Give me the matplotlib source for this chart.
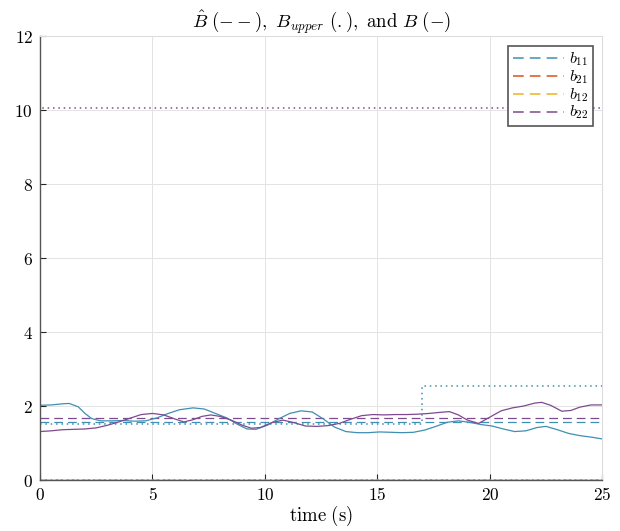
import matplotlib
matplotlib.use("Agg")
import matplotlib.pyplot as plt
import numpy as np

plt.rcParams['mathtext.fontset'] = 'cm'
plt.rcParams['font.family'] = ['DejaVu Serif']

# true parameters (solid)
t_b11 = [0, 0.5, 1.0, 1.3, 1.7, 2.0, 2.3, 2.7, 3.2, 3.7, 4.2, 4.7, 5.2, 5.7, 6.2, 6.8,
         7.3, 7.8, 8.3, 8.8, 9.2, 9.6, 10.1, 10.6, 11.1, 11.6, 12.1, 12.6, 13.1, 13.6,
         14.1, 14.6, 15.1, 15.6, 16.1, 16.6, 17.1, 17.6, 18.1, 18.6, 19.1, 19.6, 20.1,
         20.6, 21.1, 21.6, 22.1, 22.5, 23.0, 23.5, 24.0, 24.5, 25]
b11 = [2.02, 2.03, 2.06, 2.07, 1.98, 1.80, 1.66, 1.60, 1.60, 1.61, 1.59, 1.60, 1.68,
       1.80, 1.90, 1.95, 1.92, 1.80, 1.68, 1.50, 1.38, 1.37, 1.48, 1.65, 1.80, 1.87,
       1.84, 1.65, 1.43, 1.31, 1.28, 1.28, 1.30, 1.29, 1.28, 1.29, 1.35, 1.45, 1.56,
       1.60, 1.56, 1.50, 1.46, 1.38, 1.31, 1.33, 1.42, 1.45, 1.36, 1.26, 1.20, 1.16, 1.11]

t_b22 = [0, 0.5, 1.0, 1.5, 2.0, 2.5, 3.0, 3.5, 4.0, 4.5, 5.0, 5.5, 6.0, 6.4, 6.8, 7.2,
         7.6, 8.0, 8.5, 9.0, 9.4, 9.8, 10.3, 10.8, 11.3, 11.8, 12.3, 12.8, 13.3, 13.8,
         14.3, 14.8, 15.3, 15.8, 16.3, 16.8, 17.3, 17.8, 18.2, 18.6, 19.0, 19.5, 20.0,
         20.5, 21.0, 21.5, 22.0, 22.3, 22.7, 23.2, 23.6, 24.0, 24.5, 25]
b22 = [1.31, 1.33, 1.36, 1.37, 1.38, 1.41, 1.48, 1.57, 1.67, 1.77, 1.80, 1.76, 1.65,
       1.57, 1.63, 1.72, 1.76, 1.72, 1.62, 1.48, 1.40, 1.42, 1.55, 1.62, 1.55, 1.46,
       1.45, 1.47, 1.53, 1.64, 1.74, 1.77, 1.76, 1.77, 1.77, 1.78, 1.80, 1.83, 1.85,
       1.76, 1.62, 1.53, 1.70, 1.87, 1.95, 2.00, 2.08, 2.10, 2.02, 1.86, 1.88, 1.97,
       2.03, 2.03]

t_span = [0, 25]
b21 = [0, 0]
b12 = [0, 0]

# estimates (dashed)
b11_hat = 1.56
b21_hat = 0.0
b12_hat = 0.0
b22_hat = 1.67

# upper bounds (dotted)
t_up11 = [0, 17, 25]
up11 = [1.52, 2.55, 2.55]
t_up22 = [0, 0, 25]
up22 = [0, 10.05, 10.05]
up21 = [0, 0]
up12 = [0, 0]

c11 = '#3f8fb3'
c21 = '#D95319'
c12 = '#EDB120'
c22 = '#7e4a8e'
lw = 0.9
dash = (0, (7, 4))
dot = (0, (1, 2.5))

fig = plt.figure(figsize=(6.2, 5.31), dpi=100)
ax = fig.add_axes([0.0645, 0.096, 0.907, 0.836])

h11, = ax.plot(t_span, [b11_hat] * 2, ls=dash, color=c11, lw=lw, label=r'$b_{11}$')
h21, = ax.plot(t_span, [b21_hat] * 2, ls=dash, color=c21, lw=lw, label=r'$b_{21}$')
h12, = ax.plot(t_span, [b12_hat] * 2, ls=dash, color=c12, lw=lw, label=r'$b_{12}$')
h22, = ax.plot(t_span, [b22_hat] * 2, ls=dash, color=c22, lw=lw, label=r'$b_{22}$')

ax.step(t_up11, up11, where='post', ls=dot, color=c11, lw=1.1)
ax.plot(t_span, up21, ls=dot, color=c21, lw=1.1)
ax.plot(t_span, up12, ls=dot, color=c12, lw=1.1)
ax.plot(t_up22, up22, ls=dot, color=c22, lw=1.1)

ax.plot(t_b11, b11, '-', color=c11, lw=lw)
ax.plot(t_span, b21, '-', color=c21, lw=lw)
ax.plot(t_span, b12, '-', color=c12, lw=lw)
ax.plot(t_b22, b22, '-', color=c22, lw=lw)

ax.set_xlim(0, 25)
ax.set_ylim(0, 12)
ax.set_xticks(np.arange(0, 26, 5))
ax.set_yticks(np.arange(0, 13, 2))
ax.set_xticklabels([r'$\mathrm{%d}$' % v for v in range(0, 26, 5)], fontsize=12.5)
ax.set_yticklabels([r'$\mathrm{%d}$' % v for v in range(0, 13, 2)], fontsize=12.5)
ax.tick_params(direction='in', length=4, width=0.8, color='#262626', pad=5)
ax.grid(True, color='#e3e3e3', lw=0.7)
ax.set_axisbelow(True)
for side in ['left', 'bottom']:
    ax.spines[side].set_color('#555555')
    ax.spines[side].set_linewidth(1.0)
for side in ['top', 'right']:
    ax.spines[side].set_color('#dddddd')
    ax.spines[side].set_linewidth(0.8)

ax.set_xlabel(r'$\mathrm{time\ (s)}$', fontsize=13.5, labelpad=0)
ax.set_title(r'$\hat{B}\ (--),\ B_{upper}\ (.),\ \mathrm{and}\ B\ (-)$', fontsize=13.5, pad=4)

leg = ax.legend(handles=[h11, h21, h12, h22], loc='upper right', fontsize=11.5,
                fancybox=False, framealpha=1, edgecolor='#555555',
                handlelength=3.2, handletextpad=0.3, borderpad=0.3,
                labelspacing=0.0, handleheight=0.5, borderaxespad=0.6)
leg.get_frame().set_linewidth(1.2)
for line in leg.get_lines():
    line.set_linewidth(1.1)

fig.savefig('out.png', dpi=100)
